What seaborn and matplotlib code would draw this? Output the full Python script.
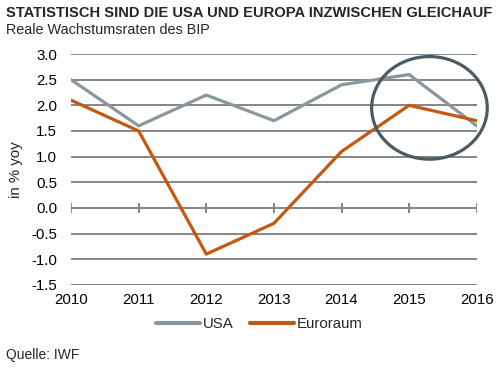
import pandas as pd
import matplotlib.pyplot as plt
import seaborn as sns
from matplotlib.patches import Ellipse
from matplotlib.lines import Line2D

# Data
years = [2010, 2011, 2012, 2013, 2014, 2015, 2016]
usa = [2.5, 1.6, 2.2, 1.7, 2.4, 2.6, 1.6]
euroraum = [2.1, 1.5, -0.9, -0.3, 1.1, 2.0, 1.7]
series_names = ['USA', 'Euroraum']
colors = ['#8b979e', '#c5580f']
y_ticks = [-1.5, -1.0, -0.5, 0.0, 0.5, 1.0, 1.5, 2.0, 2.5, 3.0]

df = pd.DataFrame({
    'Jahr': years * 2,
    'Wert': usa + euroraum,
    'Serie': [series_names[0]] * len(years) + [series_names[1]] * len(years),
})

sns.set_theme(style='white')
plt.rcParams['font.family'] = ['Liberation Sans', 'DejaVu Sans']

fig = plt.figure(figsize=(5.04, 3.70), dpi=100)
ax = fig.add_axes([0.141, 0.230, 0.805, 0.624])

# horizontal grid lines
for yv in y_ticks:
    ax.axhline(yv, color='#858585', lw=1.4, zorder=1)
# small tick marks on the zero line
ax.vlines(years, -0.09, 0.09, color='#858585', lw=1.4, zorder=1)

sns.lineplot(data=df, x='Jahr', y='Wert', hue='Serie', hue_order=series_names,
             palette=colors, linewidth=2.3, ax=ax, legend=False, zorder=3)

ax.set_xlim(2010, 2016)
ax.set_ylim(-1.5, 3.0)
ax.set_xticks(years)
ax.set_xticklabels([str(y) for y in years])
ax.set_yticks(y_ticks)
ax.set_yticklabels([f'{v:.1f}' for v in y_ticks])
ax.tick_params(axis='both', length=0, labelsize=10.8, colors='black')
ax.tick_params(axis='x', pad=6)
ax.tick_params(axis='y', pad=10)
ax.set_xlabel('')
ax.set_ylabel('in % yoy', fontsize=10.8, labelpad=6)
for s in ax.spines.values():
    s.set_visible(False)

# highlight circle
ell = Ellipse((2015.3, 1.95), 1.71, 2.0, fill=False, edgecolor='#4b5a63',
              lw=2.3, clip_on=False, zorder=4)
ax.add_patch(ell)

# legend
handles = [Line2D([], [], color=c, lw=3) for c in colors]
fig.legend(handles, series_names, loc='center', bbox_to_anchor=(0.515, 0.125),
           ncol=2, frameon=False, fontsize=10.8, handlelength=2.9,
           handletextpad=0.2, columnspacing=1.1)

fig.text(0.012, 0.965, 'STATISTISCH SIND DIE USA UND EUROPA INZWISCHEN GLEICHAUF',
         fontsize=10.6, fontweight='bold', va='center', ha='left')
fig.text(0.012, 0.918, 'Reale Wachstumsraten des BIP', fontsize=10.4,
         va='center', ha='left')
fig.text(0.012, 0.04, 'Quelle: IWF', fontsize=10, va='center', ha='left')

fig.savefig('out.png', dpi=100)
